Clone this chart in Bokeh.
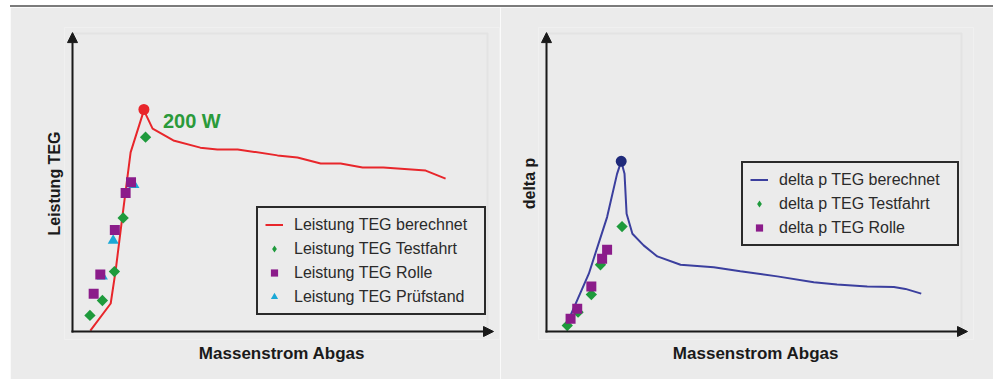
from bokeh.plotting import figure
from bokeh.models import (Range1d, Legend, LegendItem, Arrow, NormalHead,
                          BoxAnnotation, Label, FixedTicker)
from bokeh.layouts import row
from bokeh.embed import file_html
from bokeh.resources import INLINE

# ---------------- data (relative units) ----------------
# Left: Leistung TEG
teg_calc_x = [4.3, 9.2, 10.4, 12.0, 14.0, 17.2, 19.3, 24.3, 30.8, 34.9, 39.8,
              49.4, 54.2, 59.8, 64.6, 69.9, 74.9, 85.1, 89.9]
teg_calc_y = [0.3, 9.4, 20.5, 38.4, 60.1, 74.2, 68.1, 64.1, 61.7, 61.1, 61.1,
              59.1, 58.4, 56.4, 56.4, 55.0, 55.0, 54.0, 51.3]
teg_peak_x = [17.2]
teg_peak_y = [74.5]
teg_peak_label = "200 W"
teg_test_x = [4.2, 7.2, 10.1, 12.2, 17.6]
teg_test_y = [5.4, 10.4, 20.1, 38.1, 65.2]
teg_rolle_x = [5.1, 6.7, 10.2, 12.8, 14.1]
teg_rolle_y = [12.7, 19.1, 34.1, 46.5, 50.1]
teg_pruef_x = [7.2, 9.8, 14.8]
teg_pruef_y = [18.5, 30.5, 49.2]

# Right: delta p
dp_calc_x = [5.5, 10.2, 14.6, 17.0, 18.0, 18.8, 19.3, 20.7, 23.4, 26.7, 32.3,
             40.3, 46.7, 55.6, 64.4, 70.0, 77.3, 83.7, 86.5, 90.3]
dp_calc_y = [4.5, 19.4, 38.4, 52.9, 57.1, 52.9, 39.5, 32.8, 28.9, 25.2, 22.4,
             21.6, 20.2, 18.5, 16.5, 15.8, 15.1, 14.9, 14.3, 12.7]
dp_peak_x = [18.0]
dp_peak_y = [57.1]
dp_test_x = [5.0, 7.6, 10.8, 13.0, 18.2]
dp_test_y = [2.0, 6.5, 12.4, 22.4, 35.2]
dp_rolle_x = [5.8, 7.4, 10.8, 13.4, 14.6]
dp_rolle_y = [4.3, 7.6, 15.1, 24.4, 27.4]

x_label = "Massenstrom Abgas"

# ---------------- styles ----------------
BG = "#ebebeb"
AX = "#1a1a1a"
TXT = "#2a2a2a"
RED = "#e8262b"
GREEN = "#1e9a3c"
PURPLE = "#8b1c8a"
CYAN = "#1aa8d6"
BLUE = "#3b3f9e"
NAVY = "#1f2a7a"
FONT = "Liberation Sans"

X_TIP = 101.45   # end of the x-axis arrow
Y_TIP = 100.3    # end of the y-axis arrow


def make_fig(width, left, right, ylabel, ystandoff):
    p = figure(width=width, height=372, output_backend="svg", toolbar_location=None,
               x_range=Range1d(-1.93, 102.89), y_range=Range1d(-2.68, 102.01),
               min_border_left=left, min_border_right=right,
               min_border_top=20, min_border_bottom=40)
    p.background_fill_color = BG
    p.border_fill_color = BG
    p.outline_line_color = None
    p.grid.visible = False
    for ax in (p.xaxis[0], p.yaxis[0]):
        ax.ticker = FixedTicker(ticks=[])
        ax.axis_line_color = None
        ax.major_tick_line_color = None
        ax.minor_tick_line_color = None
        ax.major_label_text_font_size = "0px"
        ax.major_label_standoff = 0
        ax.major_tick_out = 0
        ax.axis_label_text_font = FONT
        ax.axis_label_text_font_style = "bold"
        ax.axis_label_text_color = AX
    p.xaxis.axis_label = x_label
    p.xaxis.axis_label_text_font_size = "17px"
    p.xaxis.axis_label_standoff = 4
    p.yaxis.axis_label = ylabel
    p.yaxis.axis_label_text_font_size = "16px"
    p.yaxis.axis_label_standoff = ystandoff
    # faint frame of the plot area
    p.add_layout(BoxAnnotation(left=0, right=100, bottom=0, top=100,
                               fill_alpha=0, line_color="#d0d0d0", line_width=2,
                               level="underlay"))
    # axes drawn as arrows
    p.add_layout(Arrow(end=NormalHead(size=10, fill_color=AX, line_color=AX, line_width=1),
                       x_start=-0.25, y_start=0, x_end=X_TIP, y_end=0,
                       line_color=AX, line_width=2))
    p.add_layout(Arrow(end=NormalHead(size=10, fill_color=AX, line_color=AX, line_width=1),
                       x_start=0, y_start=-0.35, x_end=0, y_end=Y_TIP,
                       line_color=AX, line_width=2))
    return p


def style_legend(lg, label_width, loc):
    lg.location = loc
    lg.label_text_font = FONT
    lg.label_text_font_size = "16px"
    lg.label_text_color = TXT
    lg.padding = 7
    lg.margin = 0
    lg.spacing = 5
    lg.glyph_width = 18
    lg.glyph_height = 19
    lg.label_height = 19
    lg.label_standoff = 11
    lg.label_width = label_width
    lg.border_line_color = "#2a2a2a"
    lg.border_line_alpha = 1
    lg.border_line_width = 2
    lg.background_fill_color = BG
    lg.background_fill_alpha = 1
    lg.inactive_fill_alpha = 0


# ---------------- left chart ----------------
p1 = make_fig(490, 54, 1, "Leistung TEG", 2)
r_calc = p1.line(teg_calc_x, teg_calc_y, line_color=RED, line_width=2)
p1.scatter(teg_peak_x, teg_peak_y, marker="circle", size=11, fill_color=RED, line_color=None)
p1.scatter(teg_test_x, teg_test_y, marker="square", angle=0.785398, size=8,
           fill_color=GREEN, line_color=None)
r_pruef = p1.scatter(teg_pruef_x, teg_pruef_y, marker="triangle", size=11,
                     fill_color=CYAN, line_color=None)
r_rolle = p1.scatter(teg_rolle_x, teg_rolle_y, marker="square", size=10,
                     fill_color=PURPLE, line_color=None)
# hidden legend key (diamond shape) for the test-drive points
r_test_key = p1.scatter(teg_test_x, teg_test_y, marker="diamond", size=12,
                        fill_color=GREEN, line_color=None, visible=False)
p1.add_layout(Label(x=teg_peak_x[0], y=teg_peak_y[0], text=teg_peak_label,
                    x_offset=19, y_offset=-12, text_baseline="middle",
                    text_font=FONT, text_font_style="bold",
                    text_font_size="20px", text_color="#2a9a3a"))
lg1 = Legend(items=[LegendItem(label="Leistung TEG berechnet", renderers=[r_calc]),
                    LegendItem(label="Leistung TEG Testfahrt", renderers=[r_test_key]),
                    LegendItem(label="Leistung TEG Rolle", renderers=[r_rolle]),
                    LegendItem(label="Leistung TEG Prüfstand", renderers=[r_pruef])])
style_legend(lg1, 183, (192, 24))
p1.add_layout(lg1)

# ---------------- right chart ----------------
p2 = make_fig(493, 38, 20, "delta p", 1)
d_calc = p2.line(dp_calc_x, dp_calc_y, line_color=BLUE, line_width=2)
p2.scatter(dp_peak_x, dp_peak_y, marker="circle", size=11, fill_color=NAVY, line_color=None)
p2.scatter(dp_test_x, dp_test_y, marker="square", angle=0.785398, size=8,
           fill_color=GREEN, line_color=None)
d_rolle = p2.scatter(dp_rolle_x, dp_rolle_y, marker="square", size=10,
                     fill_color=PURPLE, line_color=None)
d_test_key = p2.scatter(dp_test_x, dp_test_y, marker="diamond", size=12,
                        fill_color=GREEN, line_color=None, visible=False)
lg2 = Legend(items=[LegendItem(label="delta p TEG berechnet", renderers=[d_calc]),
                    LegendItem(label="delta p TEG Testfahrt", renderers=[d_test_key]),
                    LegendItem(label="delta p TEG Rolle", renderers=[d_rolle])])
style_legend(lg2, 171, (203, 93))
p2.add_layout(lg2)

layout = row(p1, p2, margin=(5, 0, 0, 10), styles={"border-top": "2px solid #7b7b7b"})
open("out.html", "w").write(file_html(layout, INLINE))
